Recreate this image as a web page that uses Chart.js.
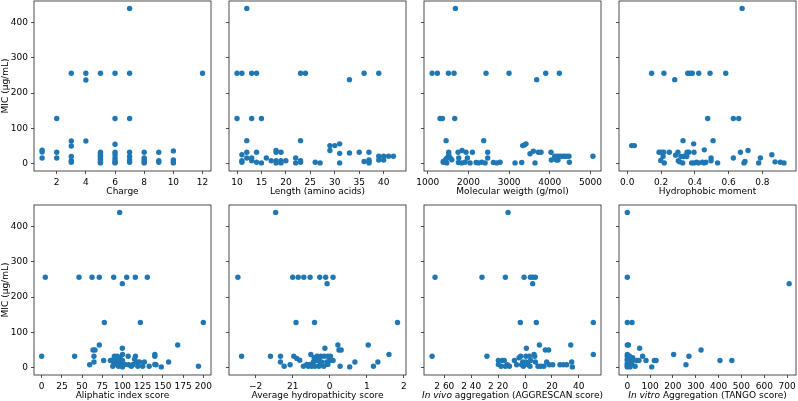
<!DOCTYPE html>
<html>
<head>
<meta charset="utf-8">
<script src="https://cdn.jsdelivr.net/npm/chart.js@4.4.0/dist/chart.umd.min.js"></script>
<style>
  html, body { margin: 0; padding: 0; background: #fff; }
  #wrap { position: relative; width: 798px; height: 401px; overflow: hidden; }
  #wrap canvas { position: absolute; }
</style>
</head>
<body>
<div id="wrap"></div>
<script>
// MIC values (µg/mL) against each peptide property
const chargeX = [1,1,1, 2,2,2, 3,3,3,3,3,3, 4,4,4, 5,5,5,5,5,5,5,5,5,5, 6,6,6,6,6,6,6,6,6, 7,7,7,7,7,7,7, 8,8,8,8,8, 9,9,9, 10,10,10,10, 12];
const chargeMic = [38,33,16, 128,32,16, 256,64,50,20,8,4, 256,237,64, 256,32,28,24,20,16,12,8,4,2, 256,128,55,32,25,16,8,4,2, 440,256,128,32,20,10,4, 32,16,10,5,2, 32,8,4, 36,10,5,2, 256];

const lengthX = [12, 10,11,13,14,23,24,36,39, 33, 10,13,15, 12,23, 29,30,31, 29, 31,33,35,37, 11,12,14,18,18,19, 16,12,13,22, 39,40,41,42, 39,40,
  11,11,13,14,15,17,18,18,19,19,20,22,23,23,26,27,31,36,37,37,37];
const lengthMic = [440, 256,256,256,256,256,256,256,256, 238, 128,128,128, 65,65, 51,51,56, 37, 29,30,32,32, 25,32,32,37,32,32, 16,16,16,16, 21,21,21,21, 10,10,
  8,4,8,4,2,8,8,2,8,2,8,2,8,4,4,2,2,6,10,6,2];

const mwX = [1679, 1106,1237,1507,1646,2432,2998,3899,4234, 3677, 1302,1360,1663, 1450,2375, 3333,3374,3415,
  1515,1515,1515,1470,1380,1437,1550,1590, 1843,1745,1941,2097,2473,1761,1974,2473, 3513,3595,3718,3784,4029,
  4037,4119,4185,4242,4300,4357,4414,4471, 4160,4201,4480,
  1384,1466,1753,1835,1917,2040,2187,2245,2327,2409,2613,2695,2777,3145,3309,3636, 5060];
const mwMic = [440, 256,256,256,256,256,256,256,256, 238, 128,128,128, 65,65, 51,53,56,
  32,25,21,16,6,11,16,11, 37,32,32,32,32,16,16,16, 28,35,32,32,32,
  10,21,21,21,21,21,21,21, 10,10,4,
  4,2,3,2,4,2,3,2,4,2,3,2,4,2,3,2, 21];

const hmX = [0.68, 0.144,0.217,0.358,0.372,0.385,0.423,0.490,0.583, 0.281, 0.476,0.628,0.660, 0.026,0.042, 0.330,0.508,
  0.393, 0.456, 0.715, 0.670, 0.856, 0.188,0.202,0.216,0.249,0.300,0.354,0.364,0.395,
  0.212,0.286,0.318,0.334,0.342,0.352,0.496,0.628,0.788,
  0.198,0.219,0.302,0.310,0.328,0.381,0.395,0.411,0.421,0.445,0.455,0.465,0.496,0.535,0.691,0.697,0.778,0.875,0.906,0.928];
const hmMic = [440, 256,256,256,256,256,256,256,256, 238, 128,128,128, 51,51, 65,65,
  56, 39, 37, 32, 25, 32,32,32,32,32,32,32,32,
  20,24,20,20,22,20,16,16,16,
  9,2,8,5,2,2,2,4,2,4,2,4,8,2,2,6,2,5,4,2];

const aliX = [96.5, 4.5,46.2,62.3,71.3,89.1,105.2,115.9,130.7, 99.8, 77.5,122.1, 71.3,168.3, 63.5,66, 99.8, 0,40.8,64.7, 59.4, 64.7, 76.7,
  86.6,90,90,93,93.6,89,88,93,95,100,100,103,107,107.6,111,115,116,117.5,113,119,121,125,127,133,140,140,140,141.5,148,157,194,
  200, 85,92,97,95,98,100];
const aliMic = [440, 256,256,256,256,256,256,256,256, 238, 128,128, 64,64, 50,50, 55, 32,32,32, 8, 16, 20,
  20,28,32,23,32,16,4,9,4,37,20,9,32,8,4,24,32,16,9,4,16,4,16,4,37,32,9,8,2,16,4,
  128, 20,26,28,16,8,2];

const hydX = [-1.46, -2.48,-1.0,-0.85,-0.70,-0.53,-0.27,-0.11,0.09, -0.07, -0.91,-0.41, -2.38,-1.60,-1.33,-0.97, -1.33, -1.23, -1.07,
  -0.89,-0.81, -0.13, 0.22, 0.25,0.31, 1.04, 1.60, 1.30,0.68, 1.18,0.28, 0.54, 1.83,
  -0.51,-0.42,-0.34,-0.29,-0.24,-0.15,-0.05,0.02,0.09,0.0,-0.08,-0.22,-0.35,-0.44,-0.53,-0.62,-0.71,-0.58,-0.49,-0.40,-0.29,-0.16,-0.05,-0.26];
const hydMic = [440, 256,256,256,256,256,256,256,256, 238, 128,128, 32,32,32,32, 16, 4, 8,
  26,21, 55, 64, 50,50, 64, 37, 16,16, 4,4, 2, 128,
  37,28,32,26,32,32,32,32,20,20,16,16,20,16,9,9,4,4,4,4,4,4,9,9];

const aggX = [-12.6, -66.9,-32,-14.6,-0.7,4.0,5.7,7.7, 5.7, -3.5,8.4, -69.1,-28.3, 1.0, 10.7, 15.1,17.6, 34.0, 34.7, 35.2, 26,28.5,31, 50.8,50.8,
  -19.8,-19.8,-17.8,-16.9,-15.4,-14.6,-13.1,-11.6,-7.9,-6.2,-4.5,-3.2,-1.7,-1.2,0.7,0.7,2.2,3.2,4.2,6.7,7.2,7.7,9.7,11.7,14.1,16.1,18.1,20.6,-2.5,3.7];
const aggMic = [440, 256,256,256,256,256,256,256, 238, 128,128, 32,32, 55, 64, 50,50, 64, 16, 2, 8,8,8, 128,37,
  9,20,4,20,20,4,8,4,20,8,28,32,16,4,32,16,8,32,20,37,32,16,4,4,4,16,8,8,8,4];

const tangoX = [0,0,0, 709, 20.6, 0,5, 54, 203, 270, 323, 406,458, 257, 107, 34, 67, 82, 118.5,126, 42.5,51, 23.5,
  0,0,2,0,0,3,0,0,5,0,8,0,12,15,20,10,18,25];
const tangoMic = [440,256,128, 238, 128, 64,64, 55, 37, 32, 50, 20,20, 8, 2, 4, 32, 20, 20,20, 20,20, 28,
  37,32,28,24,20,16,12,8,8,4,4,2,2,20,24,32,12,20];

// tick values and labels
const micTicks = [0, 100, 200, 300, 400];
const chargeTicks = [2, 4, 6, 8, 10, 12];
const lengthTicks = [10, 15, 20, 25, 30, 35, 40];
const mwTicks = [1000, 2000, 3000, 4000, 5000];
const hmTicks = [0, 0.2, 0.4, 0.6, 0.8];
const hmLabels = ['0.0', '0.2', '0.4', '0.6', '0.8'];
const aliTicks = [0, 25, 50, 75, 100, 125, 150, 175, 200];
const hydTicks = [-2, -1, 0, 1, 2];
const hydLabels = ['\u22122', '21', '0', '1', '2'];
const aggTicks = [-60, -40, -20, 0, 20, 40];
const aggLabels = ['2 60', '2 40', '2 20', '0', '20', '40'];
const tangoTicks = [0, 100, 200, 300, 400, 500, 600, 700];

const micTitle = 'MIC (\u03bcg/mL)';

Chart.defaults.font.family = '"DejaVu Sans"';
Chart.defaults.font.size = 9;
Chart.defaults.color = '#000';

const panels = [
  { x: chargeX, y: chargeMic, min: 0.443, max: 12.58, ticks: chargeTicks, title: [['Charge', false]] },
  { x: lengthX, y: lengthMic, min: 8.36, max: 44.57, ticks: lengthTicks, title: [['Length (amino acids)', false]] },
  { x: mwX, y: mwMic, min: 907, max: 5258, ticks: mwTicks, title: [['Molecular weigth (g/mol)', false]] },
  { x: hmX, y: hmMic, min: -0.049, max: 0.999, ticks: hmTicks, labels: hmLabels, title: [['Hydrophobic moment', false]] },
  { x: aliX, y: aliMic, min: -9.5, max: 209.5, ticks: aliTicks, title: [['Aliphatic index score', false]] },
  { x: hydX, y: hydMic, min: -2.72, max: 2.06, ticks: hydTicks, labels: hydLabels, title: [['Average hydropathicity score', false]] },
  { x: aggX, y: aggMic, min: -75.1, max: 56.5, ticks: aggTicks, labels: aggLabels, title: [['In vivo', true], [' aggregation (AGGRESCAN score)', false]] },
  { x: tangoX, y: tangoMic, min: -36.4, max: 739, ticks: tangoTicks, title: [['In vitro', true], [' Aggregation (TANGO score)', false]] }
];

const frameTitles = {
  id: 'frameTitles',
  afterDraw(chart, args, opts) {
    const { ctx, chartArea: a } = chart;
    ctx.save();
    ctx.strokeStyle = '#222';
    ctx.lineWidth = 0.8;
    ctx.strokeRect(a.left, a.top, a.right - a.left, a.bottom - a.top);

    ctx.fillStyle = '#000';
    ctx.textBaseline = 'alphabetic';
    ctx.textAlign = 'left';
    const fonts = opts.parts.map(p => (p[1] ? 'italic ' : '') + '9px "DejaVu Sans"');
    const widths = opts.parts.map((p, i) => { ctx.font = fonts[i]; return ctx.measureText(p[0]).width; });
    let x = (a.left + a.right) / 2 - widths.reduce((s, w) => s + w, 0) / 2;
    opts.parts.forEach((p, i) => {
      ctx.font = fonts[i];
      ctx.fillText(p[0], x, a.bottom + 23);
      x += widths[i];
    });

    if (opts.yTitle) {
      ctx.font = '9px "DejaVu Sans"';
      ctx.textAlign = 'center';
      ctx.translate(a.left - 25.7, (a.top + a.bottom) / 2);
      ctx.rotate(-Math.PI / 2);
      ctx.fillText(opts.yTitle, 0, 0);
    }
    ctx.restore();
  }
};

const wrap = document.getElementById('wrap');
panels.forEach((p, i) => {
  const col = i % 4, row = Math.floor(i / 4);
  const left = 34 + 195 * col, top = row === 0 ? 1 : 205;
  const canvas = document.createElement('canvas');
  canvas.width = 227;
  canvas.height = 208;
  canvas.style.left = (left - 34) + 'px';
  canvas.style.top = (top - 8) + 'px';
  wrap.appendChild(canvas);

  new Chart(canvas, {
    type: 'scatter',
    data: {
      datasets: [{
        data: p.x.map((v, k) => ({ x: v, y: p.y[k] })),
        backgroundColor: '#1f77b4',
        borderWidth: 0,
        pointRadius: 2.7,
        pointHoverRadius: 2.7
      }]
    },
    options: {
      responsive: false,
      animation: false,
      layout: { padding: { top: 8, right: 16, left: 0, bottom: 0 } },
      plugins: {
        legend: { display: false },
        tooltip: { enabled: false },
        frameTitles: { parts: p.title, yTitle: col === 0 ? micTitle : null }
      },
      scales: {
        x: {
          type: 'linear',
          min: p.min,
          max: p.max,
          afterBuildTicks: s => { s.ticks = p.ticks.map(v => ({ value: v })); },
          afterFit: s => { s.height = 30; s.paddingLeft = 0; s.paddingRight = 0; },
          border: { display: false },
          grid: { drawOnChartArea: false, drawTicks: true, tickLength: 3, color: '#222', lineWidth: 0.8 },
          ticks: {
            padding: 3,
            maxRotation: 0,
            autoSkip: false,
            color: '#000',
            callback: (v, k) => p.labels ? p.labels[k] : String(v)
          }
        },
        y: {
          type: 'linear',
          min: -21,
          max: 461,
          afterBuildTicks: s => { s.ticks = micTicks.map(v => ({ value: v })); },
          afterFit: s => { s.width = 34; s.paddingTop = 0; s.paddingBottom = 0; },
          border: { display: false },
          grid: { drawOnChartArea: false, drawTicks: true, tickLength: 3, color: '#222', lineWidth: 0.8 },
          ticks: {
            padding: 3,
            autoSkip: false,
            color: '#000',
            callback: v => col === 0 ? String(v) : ''
          }
        }
      }
    },
    plugins: [frameTitles]
  });
});
</script>
</body>
</html>
